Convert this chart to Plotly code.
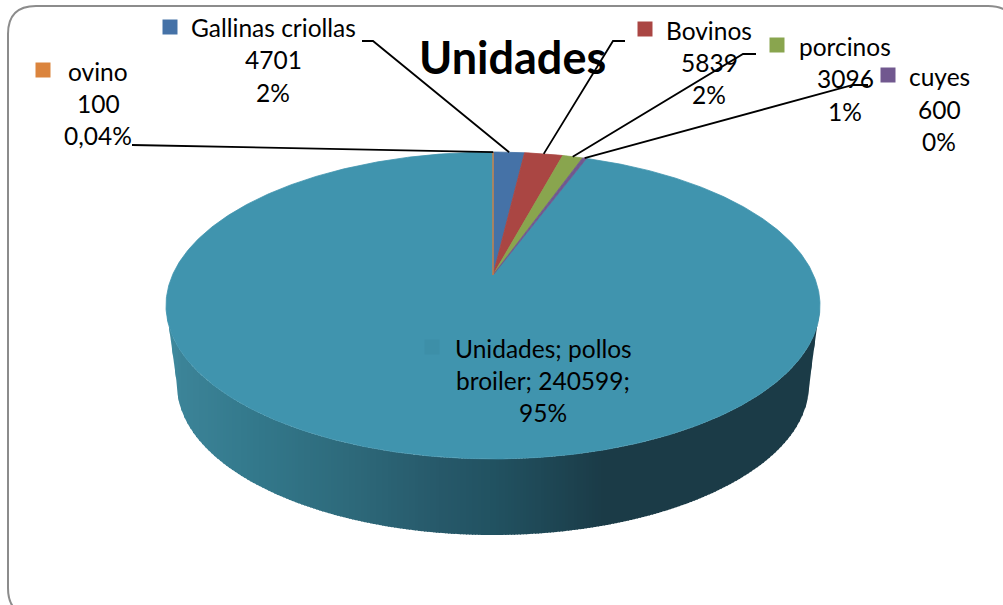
import numpy as np
import plotly.graph_objects as go

# ---------- data ----------
categories = ["ovino", "Gallinas criollas", "Bovinos", "porcinos", "cuyes", "pollos broiler"]
values = [100, 4701, 5839, 3096, 600, 240599]
percent_labels = ["0,04%", "2%", "2%", "1%", "0%", "95%"]
slice_colors = ["#DB843D", "#4572A7", "#AA4643", "#89A54E", "#71588F", "#4094AE"]
title_text = "Unidades"

# ---------- layout of the drawing (pixels of the 1003x605 canvas) ----------
W, H = 1003, 605
CX, APEX_Y = 493.0, 275.0      # pie centre as seen in perspective
K = 0.1987                     # perspective strength
RX, RY = 320.5, 147.4          # projected radii
N_RIM = 720
FONT = "Lato"
TXT = 24.5


def project(t):
    w = 1 + K * np.cos(t)
    return CX + RX * np.sin(t) / w, APEX_Y - RY * np.cos(t) / w


fractions = np.array(values, dtype=float) / sum(values)
edges = np.concatenate([[0.0], np.cumsum(fractions)]) * 2 * np.pi

fig = go.Figure()

# ---------- side wall with horizontal gradient ----------
BOTTOM_CY, BOTTOM_RX, BOTTOM_RY = 385.0, 316.0, 150.0
TOP_CY, TOP_RX, TOP_RY = 305.5, 327.0, 153.5
grad_x = [166, 180, 260, 350, 440, 490, 540, 573, 605, 820]
grad_r = [64, 60, 51, 46, 39, 34, 31, 29, 27, 27]
grad_g = [142, 132, 120, 106, 89, 83, 73, 66, 59, 59]
grad_b = [162, 152, 139, 123, 106, 98, 87, 79, 71, 71]


def wall_color(x):
    return "rgb(%d,%d,%d)" % (np.interp(x, grad_x, grad_r), np.interp(x, grad_x, grad_g), np.interp(x, grad_x, grad_b))


def wall_top(x):
    u = np.clip((x - CX) / TOP_RX, -1, 1)
    return TOP_CY + TOP_RY * np.sqrt(1 - u ** 2)


def wall_bottom(x):
    dx = abs(x - CX)
    if dx <= BOTTOM_RX:
        return BOTTOM_CY + BOTTOM_RY * np.sqrt(1 - (dx / BOTTOM_RX) ** 2)
    return np.interp(dx, [BOTTOM_RX, TOP_RX], [BOTTOM_CY, TOP_CY])


STEP = 3
band_x = np.arange(CX - TOP_RX, CX + TOP_RX, STEP)
for x0 in band_x:
    x1 = min(x0 + STEP + 1, CX + TOP_RX)
    sub = np.linspace(x0, x1, 4)
    tops = [wall_top(v) for v in sub]
    bots = [wall_bottom(v) for v in sub]
    xs = list(sub) + list(sub[::-1])
    ys = tops + bots[::-1]
    c = wall_color(x0 + STEP / 2)
    fig.add_trace(go.Scatter(x=xs, y=ys, mode="lines", fill="toself", fillcolor=c,
                             line=dict(width=0), hoverinfo="skip", showlegend=False))

# ---------- top face slices ----------
draw_order = [5, 1, 2, 3, 4, 0]
for i in draw_order:
    n = max(3, int((edges[i + 1] - edges[i]) / (2 * np.pi) * N_RIM))
    t = np.linspace(edges[i], edges[i + 1], n)
    px, py = project(t)
    fig.add_trace(go.Scatter(x=np.r_[CX, px, CX], y=np.r_[APEX_Y, py, APEX_Y], mode="lines",
                             fill="toself", fillcolor=slice_colors[i],
                             line=dict(color=slice_colors[i], width=0.8),
                             hoverinfo="skip", showlegend=False, name=categories[i]))

# ---------- leader lines: label end, elbow, then slice mid-angle on the rim ----------
leader_ends = {0: [(132, 145)], 1: [(362, 41), (373, 41)], 2: [(625, 41), (613, 41)],
               3: [(756, 54), (743, 54)], 4: [(868, 85), (853, 85)]}
for i, pts in leader_ends.items():
    mx, my = project((edges[i] + edges[i + 1]) / 2)
    fig.add_trace(go.Scatter(x=[p[0] for p in pts] + [float(mx)], y=[p[1] for p in pts] + [float(my)],
                             mode="lines", line=dict(color="black", width=1.8),
                             hoverinfo="skip", showlegend=False))

# ---------- labels ----------
label_cfg = {
    0: dict(cx=98, ys=(71.5, 103.5, 135.5), key=(43, 70)),
    1: dict(cx=273, ys=(27, 59, 92), key=(170, 27)),
    2: dict(cx=709, ys=(30, 62, 94), key=(645, 29)),
    3: dict(cx=845, ys=(46, 78, 111), key=(777, 45)),
    4: dict(cx=939, ys=(76, 109, 141), key=(888, 75)),
}
annotations = []


def put(x, y, text, size=TXT, bold=False):
    annotations.append(dict(x=x, y=y, xref="x", yref="y", text=("<b>%s</b>" % text) if bold else text,
                            showarrow=False, xanchor="center", yanchor="middle",
                            font=dict(family=FONT, size=size, color="black")))


for i, c in label_cfg.items():
    put(c["cx"], c["ys"][0], categories[i])
    put(c["cx"], c["ys"][1], str(values[i]))
    put(c["cx"], c["ys"][2], percent_labels[i])
    kx, ky = c["key"]
    fig.add_trace(go.Scatter(x=[kx], y=[ky], mode="markers",
                             marker=dict(symbol="square", size=15, color=slice_colors[i]),
                             hoverinfo="skip", showlegend=False))

put(543, 348, "Unidades; pollos")
put(543, 380, "broiler; %d;" % values[5])
put(543, 412, percent_labels[5])
fig.add_trace(go.Scatter(x=[432], y=[347], mode="markers",
                         marker=dict(symbol="square", size=15, color="#3D8FA8"),
                         hoverinfo="skip", showlegend=False))
put(512, 57, title_text, size=45, bold=True)

# ---------- rounded frame ----------
L, T, R_, B_, r = 8, 6, 1016, 616, 28
frame = (f"M {L+r} {T} L {R_-r} {T} Q {R_} {T} {R_} {T+r} L {R_} {B_-r} Q {R_} {B_} {R_-r} {B_} "
         f"L {L+r} {B_} Q {L} {B_} {L} {B_-r} L {L} {T+r} Q {L} {T} {L+r} {T} Z")

fig.update_layout(
    width=W, height=H, margin=dict(l=0, r=0, t=0, b=0),
    paper_bgcolor="white", plot_bgcolor="white", showlegend=False,
    xaxis=dict(range=[0, W], visible=False, fixedrange=True),
    yaxis=dict(range=[H, 0], visible=False, fixedrange=True),
    annotations=annotations,
    shapes=[dict(type="path", path=frame, xref="x", yref="y",
                 line=dict(color="#8C8C8C", width=2), layer="below")],
)

fig.write_html("out.html", config={"displayModeBar": False},
               post_script="document.body.style.margin='0';document.body.style.overflow='hidden';")
